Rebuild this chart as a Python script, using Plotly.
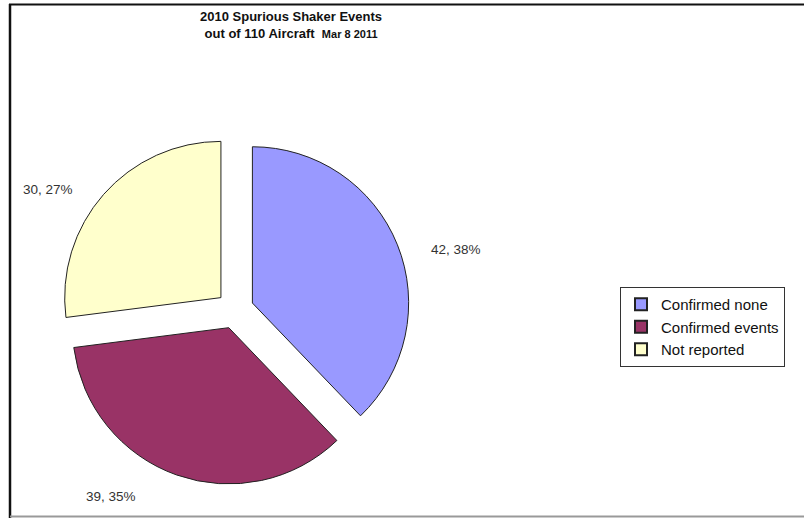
import plotly.graph_objects as go

categories = ["Confirmed none", "Confirmed events", "Not reported"]
counts = [42, 39, 30]
colors = ["#9999FF", "#993366", "#FFFFCC"]
title_line1 = "2010 Spurious Shaker Events"
title_line2 = "out of 110 Aircraft"
title_date = "Mar 8 2011"

W, H = 804, 518
total = sum(counts)

fig = go.Figure()
fig.add_trace(go.Pie(
    labels=categories,
    values=counts,
    sort=False,
    direction="clockwise",
    rotation=0,
    pull=[0.12, 0.12, 0.12],
    marker=dict(colors=colors, line=dict(color="#222222", width=1)),
    textinfo="none",
    hoverinfo="label+value+percent",
    domain=dict(x=[60 / W, 410 / W], y=[1 - 485 / H, 1 - 135 / H]),
))

def px(x):
    return x / W

def py(y):
    return 1 - y / H

label_pos = [(456, 249), (111, 496), (48, 189)]
for (cx, cy), v in zip(label_pos, counts):
    fig.add_annotation(
        x=px(cx), y=py(cy), xref="paper", yref="paper",
        text=f"{v}, {round(100 * v / total)}%",
        showarrow=False, xanchor="center", yanchor="middle",
        font=dict(family="Arial, Liberation Sans", size=13.5, color="#333333"),
    )

fig.add_annotation(
    x=px(291), y=py(25), xref="paper", yref="paper",
    text=f"<b>{title_line1}<br>{title_line2}  <span style='font-size:11px'>{title_date}</span></b>",
    showarrow=False, xanchor="center", yanchor="middle",
    font=dict(family="Arial, Liberation Sans", size=13, color="#111111"),
)

# frame lines
fig.add_shape(type="line", xref="paper", yref="paper",
              x0=px(9), x1=1, y0=py(4.5), y1=py(4.5),
              line=dict(color="#111111", width=2))
fig.add_shape(type="line", xref="paper", yref="paper",
              x0=px(10), x1=px(10), y0=py(4), y1=0,
              line=dict(color="#111111", width=2.5))
fig.add_shape(type="line", xref="paper", yref="paper",
              x0=px(10), x1=1, y0=py(516.5), y1=py(516.5),
              line=dict(color="#999999", width=2))

fig.update_layout(
    width=W, height=H,
    margin=dict(l=0, r=0, t=0, b=0),
    paper_bgcolor="white",
    plot_bgcolor="white",
    showlegend=True,
    legend=dict(
        x=px(620), y=py(287), xanchor="left", yanchor="top",
        bordercolor="#333333", borderwidth=1,
        font=dict(family="Arial, Liberation Sans", size=15, color="#111111"),
        itemsizing="constant",
        tracegroupgap=0,
    ),
)

fig.write_html("out.html")
